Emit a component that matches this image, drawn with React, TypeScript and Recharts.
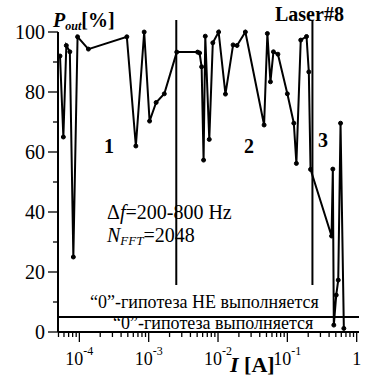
import React from "react";
import { LineChart, Line, XAxis, YAxis, ReferenceLine } from "recharts";

// measured points, current in A, output share in %
const currents = [
  5.26e-5, 5.88e-5, 6.49e-5, 7.29e-5, 8.19e-5, 9.42e-5, 1.35e-4, 4.84e-4,
  6.53e-4, 8.61e-4, 1.03e-3, 1.28e-3, 1.68e-3, 2.54e-3, 5.07e-3, 5.42e-3,
  5.8e-3, 6.19e-3, 6.55e-3, 7.48e-3, 8.41e-3, 1.02e-2, 1.28e-2, 1.65e-2,
  1.88e-2, 2.48e-2, 4.62e-2, 5.15e-2, 5.7e-2, 6.3e-2, 7.31e-2, 0.1, 0.124,
  0.135, 0.156, 0.189, 0.204, 0.216, 0.434, 0.453, 0.468, 0.507, 0.542,
  0.585, 0.653,
];
const pout = [
  92, 65, 95.5, 93.4, 25, 98.4, 94.3, 98.4, 62, 100, 70.3, 76.5, 79.4, 93.3,
  93.3, 93, 88.4, 57.3, 98.6, 64.2, 96.4, 100, 79.3, 95.7, 95.5, 100, 69,
  99.5, 83.4, 93.4, 92.6, 79.4, 69.6, 56.2, 97.3, 98.5, 86.7, 54.2, 32, 54.3,
  2.3, 12.3, 17.3, 69.6, 1.2,
];

const yTicks = [0, 10, 20, 30, 40, 50, 60, 70, 80, 90, 100];
const yLabelStep = 20;
const xMajor = [1e-4, 1e-3, 1e-2, 1e-1, 1];
const xMajorBase = ["10", "10", "10", "10", "1"];
const xMajorExp = ["-4", "-3", "-2", "-1", ""];
const xDomain = [4.92e-5, 1.08];
const thresholdLevel = 5;
const regionBounds = [2.5e-3, 0.23];
const regionSpan = [15.7, 104];

const serif = "'Liberation Serif', 'Times New Roman', serif";

const data = currents.map((c, i) => ({ current: c, pout: pout[i] }));

const xTicks: number[] = [];
[1e-5, 1e-4, 1e-3, 1e-2, 1e-1].forEach((d) => {
  for (let m = 1; m <= 9; m++) {
    const v = Number((d * m).toPrecision(3));
    if (v >= xDomain[0] && v <= xDomain[1]) xTicks.push(v);
  }
});
xTicks.push(1);

const XTick = (props: any) => {
  const { x, y, payload } = props;
  const v = payload.value;
  const idx = xMajor.findIndex((m) => Math.abs(Math.log10(m / v)) < 1e-6);
  const major = idx >= 0;
  return (
    <g>
      <line x1={x} x2={x} y1={y} y2={y + (major ? 10 : 5)} stroke="#000" strokeWidth={1.3} />
      {major && (
        <text x={x} y={y + 33} textAnchor="middle" fontSize={18} fontFamily={serif} fill="#000">
          {xMajorBase[idx]}
          {xMajorExp[idx] && (
            <tspan fontSize={12} dy={-10}>
              {xMajorExp[idx]}
            </tspan>
          )}
        </text>
      )}
    </g>
  );
};

const YTick = (props: any) => {
  const { x, y, payload } = props;
  const v = payload.value;
  const major = v % yLabelStep === 0;
  return (
    <g>
      <line x1={x - (major ? 10 : 5)} x2={x} y1={y} y2={y} stroke="#000" strokeWidth={1.3} />
      {major && (
        <text x={x - 13} y={y + 7} textAnchor="end" fontSize={20} fontFamily={serif} fill="#000">
          {v}
        </text>
      )}
    </g>
  );
};

export default function App() {
  return (
    <div style={{ position: "absolute", left: 0, top: 0, width: 365, height: 379, background: "#fff" }}>
      <LineChart width={365} height={379} data={data} margin={{ top: 32, right: 6, bottom: 7, left: 0 }}>
        <XAxis
          dataKey="current"
          type="number"
          scale="log"
          domain={xDomain}
          allowDataOverflow
          ticks={xTicks}
          interval={0}
          tickSize={0}
          tickMargin={0}
          tick={<XTick />}
          height={40}
          axisLine={{ stroke: "#000", strokeWidth: 2 }}
        />
        <YAxis
          type="number"
          domain={[0, 100]}
          ticks={yTicks}
          interval={0}
          tickSize={0}
          tickMargin={0}
          tick={<YTick />}
          width={58}
          axisLine={{ stroke: "#000", strokeWidth: 2 }}
        />
        <ReferenceLine y={thresholdLevel} stroke="#000" strokeWidth={2} />
        {regionBounds.map((b) => (
          <ReferenceLine
            key={b}
            segment={[
              { x: b, y: regionSpan[0] },
              { x: b, y: regionSpan[1] },
            ]}
            stroke="#000"
            strokeWidth={2}
            ifOverflow="visible"
          />
        ))}
        <Line
          type="linear"
          dataKey="pout"
          stroke="#000"
          strokeWidth={2}
          dot={{ r: 2, fill: "#000", stroke: "#000", strokeWidth: 1 }}
          isAnimationActive={false}
        />
      </LineChart>
      <svg
        width={365}
        height={379}
        style={{ position: "absolute", left: 0, top: 0, pointerEvents: "none" }}
        fontFamily={serif}
        fill="#000"
      >
        <text x={53} y={27} fontSize={20} fontWeight="bold">
          <tspan fontStyle="italic">P</tspan>
          <tspan fontStyle="italic" fontSize={12} dy={3}>out</tspan>
          <tspan dy={-3}>[%]</tspan>
        </text>
        <text x={275} y={21} fontSize={20} fontWeight="bold">Laser#8</text>
        <text x={109} y={153} fontSize={20} fontWeight="bold" textAnchor="middle">1</text>
        <text x={249} y={153} fontSize={20} fontWeight="bold" textAnchor="middle">2</text>
        <text x={323} y={147} fontSize={20} fontWeight="bold" textAnchor="middle">3</text>
        <text x={107} y={219} fontSize={20}>
          Δ<tspan fontStyle="italic">f</tspan>=200-800 Hz
        </text>
        <text x={107} y={242} fontSize={20}>
          <tspan fontStyle="italic">N</tspan>
          <tspan fontStyle="italic" fontSize={13} dy={3}>FFT</tspan>
          <tspan dy={-3}>=2048</tspan>
        </text>
        <text x={90} y={308} fontSize={18}>“0”-гипотеза НЕ выполняется</text>
        <text x={113} y={329} fontSize={18}>“0”-гипотеза выполняется</text>
        <text x={230} y={372} fontSize={22} fontWeight="bold">
          <tspan fontStyle="italic">I</tspan> [A]
        </text>
      </svg>
    </div>
  );
}
